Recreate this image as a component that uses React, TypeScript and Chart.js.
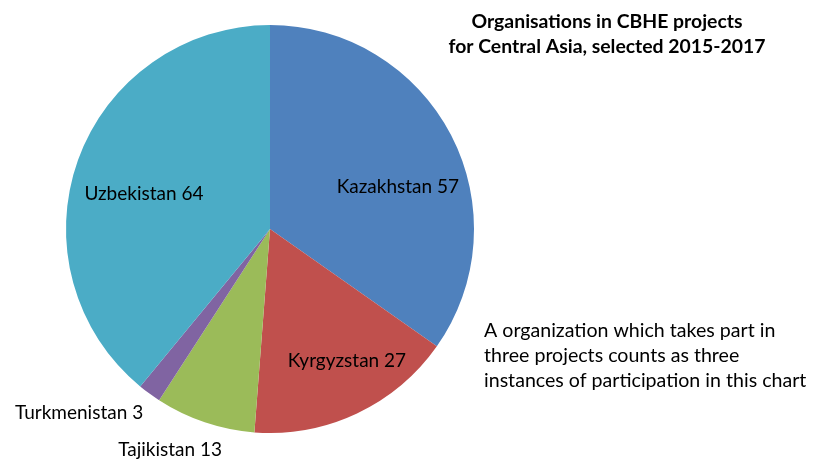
import React, { useEffect, useRef } from "react";
import { Chart, registerables } from "chart.js";

Chart.register(...registerables);

const countries = ["Kazakhstan", "Kyrgyzstan", "Tajikistan", "Turkmenistan", "Uzbekistan"];
const values = [57, 27, 13, 3, 64];
const colors = ["#4F81BD", "#C0504D", "#9BBB59", "#8064A2", "#4BACC6"];
const titleLines = ["Organisations in CBHE projects", "for Central Asia, selected 2015-2017"];
const noteLines = [
  "A organization which takes part in",
  "three projects counts as three",
  "instances of participation in this chart",
];
// label offsets relative to pie centre, in units of radius
const labelOffsets = [
  [0.627, -0.206],
  [0.377, 0.647],
  [-0.49, 1.083],
  [-0.936, 0.902],
  [-0.618, -0.172],
];

const FONT = "Lato, 'Open Sans', sans-serif";

const textPlugin = {
  id: "customText",
  afterDraw(chart: any) {
    const ctx = chart.ctx;
    const meta = chart.getDatasetMeta(0);
    const arc0 = meta.data[0];
    const cx = arc0.x;
    const cy = arc0.y;
    const r = arc0.outerRadius;
    ctx.save();
    ctx.fillStyle = "#000";
    ctx.textAlign = "center";
    ctx.textBaseline = "middle";
    ctx.font = `19px ${FONT}`;
    meta.data.forEach((_: any, i: number) => {
      const [dx, dy] = labelOffsets[i];
      ctx.fillText(`${countries[i]} ${values[i]}`, cx + dx * r, cy + dy * r);
    });
    ctx.font = `bold 19.4px ${FONT}`;
    titleLines.forEach((t, i) => ctx.fillText(t, 607, 22 + i * 25));
    ctx.textAlign = "left";
    ctx.font = `19.6px ${FONT}`;
    noteLines.forEach((t, i) => ctx.fillText(t, 484, 331 + i * 25));
    ctx.restore();
  },
};

export default function App() {
  const ref = useRef<HTMLCanvasElement>(null);
  useEffect(() => {
    if (!ref.current) return;
    const chart = new Chart(ref.current, {
      type: "pie",
      data: {
        labels: countries,
        datasets: [
          {
            data: values,
            backgroundColor: colors,
            borderWidth: 0,
          },
        ],
      },
      options: {
        responsive: false,
        animation: false,
        layout: { padding: { left: 66, right: 341, top: 25, bottom: 27 } },
        plugins: {
          legend: { display: false },
          tooltip: { enabled: false },
          title: { display: false },
        },
      },
      plugins: [textPlugin],
    });
    return () => chart.destroy();
  }, []);
  return (
    <div style={{ position: "fixed", left: 0, top: 0, width: 815, height: 460, background: "#fff" }}>
      <canvas ref={ref} width={815} height={460} style={{ width: 815, height: 460 }} />
    </div>
  );
}
